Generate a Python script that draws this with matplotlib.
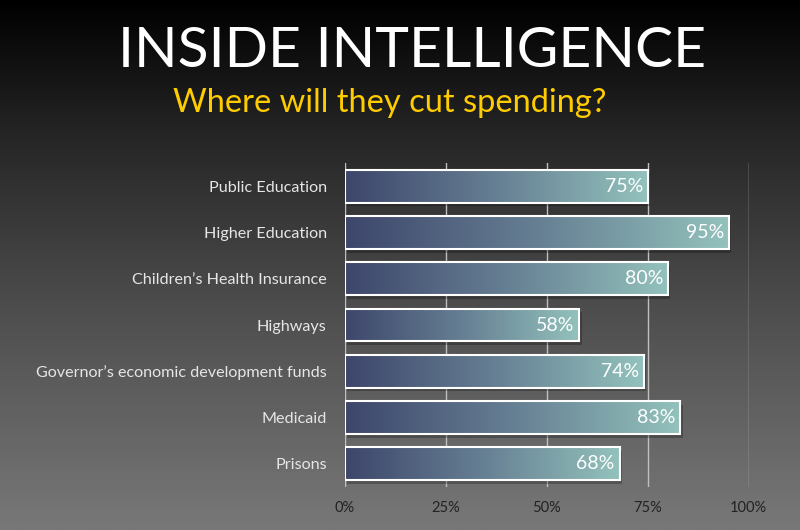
import numpy as np
import matplotlib
matplotlib.use("Agg")
import matplotlib.pyplot as plt
from matplotlib.colors import LinearSegmentedColormap
from matplotlib.patches import Rectangle

categories = ["Public Education", "Higher Education", "Children\u2019s Health Insurance",
              "Highways", "Governor\u2019s economic development funds", "Medicaid", "Prisons"]
values = [75, 95, 80, 58, 74, 83, 68]
ticks = [0, 25, 50, 75, 100]
tick_labels = ["0%", "25%", "50%", "75%", "100%"]

plt.rcParams['font.family'] = ['Lato', 'DejaVu Sans']

fig = plt.figure(figsize=(8, 5.3), dpi=100)

# background gradient, black on top to grey at the bottom
bg = fig.add_axes([0, 0, 1, 1], zorder=-1)
grad = np.linspace(0, 1, 256).reshape(-1, 1)
bg_cmap = LinearSegmentedColormap.from_list(
    "bg", [(0, "#000000"), (0.26, "#262626"), (0.57, "#4c4c4c"), (1, "#787878")])
bg.imshow(grad, aspect="auto", cmap=bg_cmap, extent=[0, 1, 1, 0])
bg.set_axis_off()

fig.text(0.515, 0.903, "INSIDE INTELLIGENCE", color="white", fontsize=41,
         ha="center", va="center")
fig.text(0.4875, 0.806, "Where will they cut spending?", color="#ffcc00", fontsize=23.5,
         ha="center", va="center")

ax = fig.add_axes([0.431, 0.081, 0.505, 0.6115])
ax.set_facecolor("none")

bar_cmap = LinearSegmentedColormap.from_list("bar", ["#3d466b", "#667f93", "#93c2bc"])
h = 0.71
n = len(categories)
for i, v in enumerate(values):
    y = n - 1 - i
    # soft shadow
    ax.add_patch(Rectangle((0.6, y - h / 2 - 0.08), v, h, facecolor="black",
                           alpha=0.25, edgecolor="none", zorder=2))
    ax.imshow(np.linspace(0, 1, 256).reshape(1, -1), cmap=bar_cmap, aspect="auto",
              extent=[0, v, y - h / 2, y + h / 2], zorder=3)
    ax.add_patch(Rectangle((0, y - h / 2), v, h, facecolor="none",
                           edgecolor="white", lw=1.5, zorder=4))
    ax.text(v - 1.2, y, f"{v}%", color="white", fontsize=14, ha="right",
            va="center", zorder=5)

ax.set_xlim(0, 100)
ax.set_ylim(-0.5, n - 0.5)
ax.set_xticks(ticks)
ax.set_xticklabels(tick_labels, color="#222222", fontsize=10.5)
ax.set_yticks(range(n))
ax.set_yticklabels(categories[::-1], color="#e6e6e6", fontsize=11.6)
ax.tick_params(length=0, pad=13)
ax.tick_params(axis="x", pad=10)
ax.grid(axis="x", color="#c0c0c0", lw=1, zorder=1)
ax.set_axisbelow(True)
for s in ax.spines.values():
    s.set_visible(False)

fig.savefig("out.png", dpi=100)
